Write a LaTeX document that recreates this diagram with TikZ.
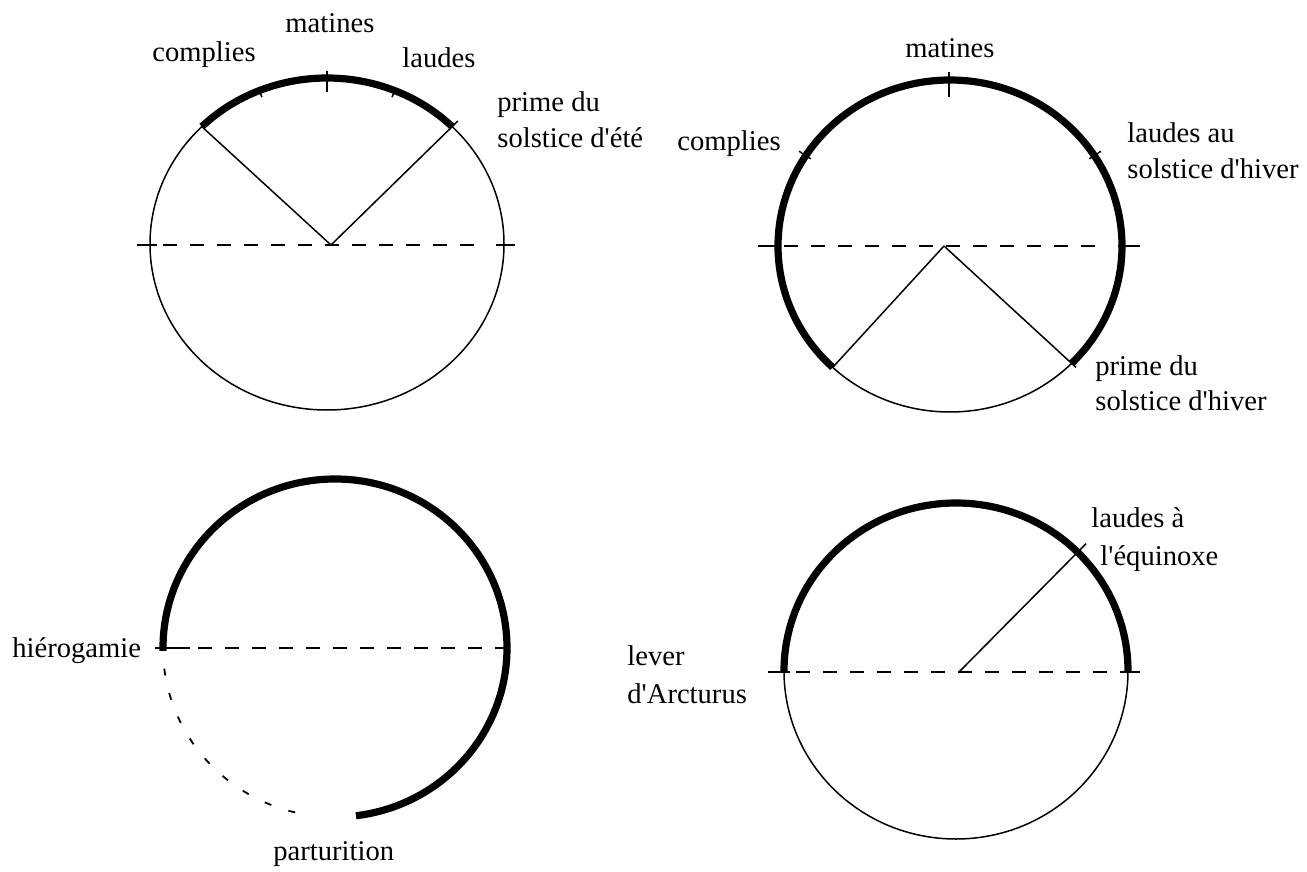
\documentclass[tikz,border=0pt]{standalone}
\usepackage{fontspec}
\setmainfont{Liberation Serif}[Ligatures=TeXOff]
\usetikzlibrary{calc}
\begin{document}
\begin{tikzpicture}[x=0.5pt,y=-0.5pt,
  thinline/.style={line width=0.75pt},
  thickarc/.style={line width=3.6pt},
  dashline/.style={line width=0.75pt, dash pattern=on 7pt off 6.5pt},
  dotarc/.style={line width=0.9pt, dash pattern=on 3.5pt off 9pt},
  lbl/.style={font=\fontsize{14.3}{18}\selectfont, inner sep=0pt, anchor=base west},
]
\useasboundingbox[fill=white] (0,0) rectangle (1307,872);

% ---------- circle 1 (top left) ----------
\coordinate (c1) at (327,244);
\coordinate (a1) at (331,245);
\draw[thinline] (c1) ellipse [x radius=177, y radius=166];
\draw[thickarc] (c1) ++(-45:177 and 166) arc[start angle=-45, end angle=-135, x radius=177, y radius=166];
\path (c1) ++(-45:177 and 166) coordinate (c1r);
\path (c1) ++(-135:177 and 166) coordinate (c1l);
\draw[thinline] (a1) -- (c1l);
\draw[thinline, shorten >=-4pt] (a1) -- (c1r);
\draw[thinline] ($(c1)+(-67.5:178 and 167)$) -- ($(c1)+(-67.5:170 and 159)$);
\draw[thinline] ($(c1)+(-112.5:178 and 167)$) -- ($(c1)+(-112.5:170 and 159)$);
\draw[thinline] ($(c1)+(0,-173)$) -- ($(c1)+(0,-152)$);
\draw[thinline] (137,245) -- (157,245);
\draw[thinline] (496,245) -- (515,245);
\draw[dashline] (163,245) -- (484,245);

\node[lbl] (m1) at (285,33) {matines};
\node[lbl] (co1) at (152,62) {complies};
\node[lbl] (la1) at (402,68) {laudes};
\node[lbl] (pr1a) at (497,112) {prime du};
\node[lbl] (pr1b) at (497,148) {solstice d'été};

% ---------- circle 2 (top right) ----------
\coordinate (c2) at (950,246);
\coordinate (a2) at (944,246);
\draw[thinline] (c2) ellipse [x radius=172, y radius=166];
\draw[thickarc] (c2) ++(45:172 and 166) arc[start angle=45, end angle=-227, x radius=172, y radius=166];
\path (c2) ++(45:172 and 166) coordinate (c2r);
\path (c2) ++(-227:172 and 166) coordinate (c2l);
\draw[thinline] (a2) -- (c2l);
\draw[thinline, shorten >=-3pt] (a2) -- (c2r);
\draw[thinline] ($(c2)+(-147:180 and 174)$) -- ($(c2)+(-147:166 and 160)$);
\draw[thinline] ($(c2)+(-33:180 and 174)$) -- ($(c2)+(-33:166 and 160)$);
\draw[thinline] ($(c2)+(-1,-174)$) -- ($(c2)+(-1,-149)$);
\draw[thinline] (758,246) -- (776,246);
\draw[thinline] (1118,246) -- (1140,246);
\draw[dashline] (784,246) -- (1104,246);

\node[lbl] (m2) at (905,58) {matines};
\node[lbl] (co2) at (677,150) {complies};
\node[lbl] (la2a) at (1127,142) {laudes au};
\node[lbl] (la2b) at (1127,178) {solstice d'hiver};
\node[lbl] (pr2a) at (1095,375) {prime du};
\node[lbl] (pr2b) at (1095,410) {solstice d'hiver};

% ---------- circle 3 (bottom left) ----------
\coordinate (c3) at (335,648);
\draw[thickarc] (c3) ++(-181:172 and 169) arc[start angle=-181, end angle=83, x radius=172, y radius=169];
\draw[dotarc] (c3) ++(-187:172 and 169) arc[start angle=-187, end angle=-262, x radius=172, y radius=169];
\coordinate (h3a) at (155,648);
\coordinate (h3b) at (190,648);
\coordinate (h3c) at (198,648);
\coordinate (h3d) at (517,648);
\draw[thinline] (h3a) -- (h3b);
\draw[dashline] (h3c) -- (h3d);

\node[lbl] (hi3) at (12,657) {hiérogamie};
\node[lbl] (pa3) at (273,860) {parturition};

% ---------- circle 4 (bottom right) ----------
\coordinate (c4) at (956,671);
\coordinate (a4) at (959,672);
\draw[thinline] (c4) ellipse [x radius=172, y radius=168];
\draw[thickarc] (c4) ++(0:172 and 168) arc[start angle=0, end angle=-180, x radius=172, y radius=168];
\path (c4) ++(-45:172 and 168) coordinate (c4r);
\draw[thinline, shorten >=-6pt] (a4) -- (c4r);
\draw[thinline] (768,672) -- (790,672);
\draw[thinline] (1120,672) -- (1140,672);
\draw[dashline] (796,672) -- (1114,672);

\node[lbl] (la4a) at (1091,527) {laudes à};
\node[lbl] (la4b) at (1100,565) {l'équinoxe};
\node[lbl] (lv4a) at (627,665) {lever};
\node[lbl] (lv4b) at (627,703) {d'Arcturus};
\end{tikzpicture}
\end{document}
